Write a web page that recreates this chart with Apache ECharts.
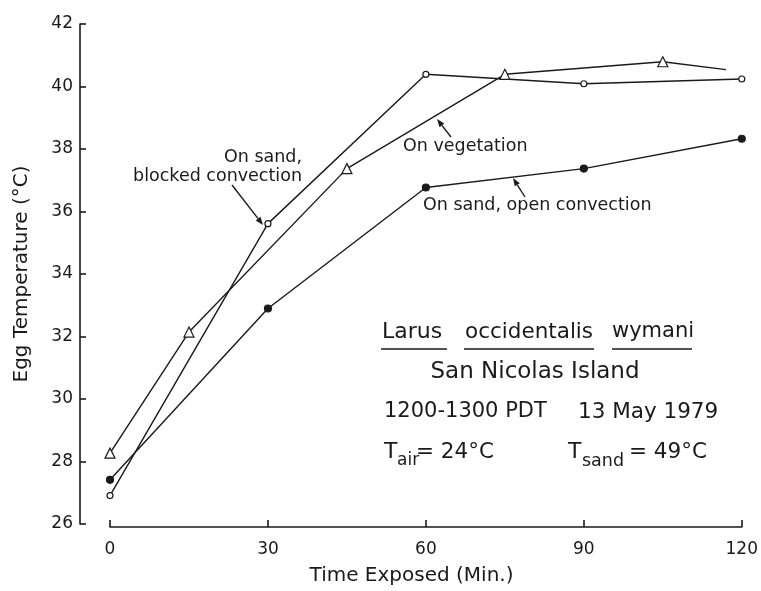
<!DOCTYPE html>
<html>
<head>
<meta charset="utf-8">
<script src="https://cdn.jsdelivr.net/npm/echarts@6/dist/echarts.min.js"></script>
<style>
  html, body { margin: 0; padding: 0; background: #fff; }
  #chart { width: 761px; height: 591px; }
</style>
</head>
<body>
<div id="chart"></div>
<script>
// minutes, egg temperature (°C)
var blockedConvection = [[0, 27.0], [30, 35.65], [60, 40.4], [90, 40.1], [120, 40.25]]
var onVegetation = [[0, 28.35], [15, 32.2], [45, 37.4], [75, 40.4], [105, 40.8], [117, 40.55]]
var openConvection = [[0, 27.5], [30, 32.95], [60, 36.8], [90, 37.4], [120, 38.35]]
var xTicks = [0, 30, 60, 90, 120]

var FONT = 'DejaVu Sans'
var INK = '#1a1a1a'

// arrow from (x1,y1) with a head at (x2,y2)
function arrow(x1, y1, x2, y2) {
  var a = Math.atan2(y2 - y1, x2 - x1)
  var len = 8, w = 3
  var bx = x2 - len * Math.cos(a), by = y2 - len * Math.sin(a)
  return [
    { type: 'line', shape: { x1: x1, y1: y1, x2: bx, y2: by }, style: { stroke: INK, lineWidth: 1.4 } },
    { type: 'polygon', shape: { points: [[x2, y2],
      [bx + w * Math.sin(a), by - w * Math.cos(a)],
      [bx - w * Math.sin(a), by + w * Math.cos(a)]] }, style: { fill: INK } }
  ]
}

function txt(x, y, s, size, align) {
  return { type: 'text', x: x, y: y, style: { text: s, font: size + 'px "' + FONT + '"', fill: INK,
    textAlign: align || 'left', textVerticalAlign: 'middle' } }
}

function uline(x1, x2, y) {
  return { type: 'line', shape: { x1: x1, y1: y, x2: x2, y2: y }, style: { stroke: INK, lineWidth: 1.3 } }
}

var myChart = echarts.init(document.getElementById('chart'))

var graphics = [].concat(
  [txt(302, 157, 'On sand,', 17.5, 'right'), txt(302, 176, 'blocked convection', 17.5, 'right')],
  arrow(232, 185, 263, 225),
  [txt(403, 146, 'On vegetation', 17.5)],
  arrow(451, 137, 437, 119),
  [txt(423, 205, 'On sand, open convection', 17.5)],
  arrow(525, 197, 513, 178),
  [
    txt(382, 332, 'Larus', 22), txt(465, 332, 'occidentalis', 21.5), txt(612, 332, 'wymani', 21),
    uline(381, 447, 349), uline(464, 594, 349), uline(612, 692, 349),
    txt(535, 372, 'San Nicolas Island', 23, 'center'),
    txt(384, 412, '1200-1300 PDT', 21), txt(578, 412, '13 May 1979', 21.5),
    txt(384, 452, 'T', 22), txt(397, 461, 'air', 17), txt(416, 452, '= 24°C', 21.5),
    txt(568, 452, 'T', 22), txt(582, 461, 'sand', 17.5), txt(629, 452, '= 49°C', 21.5)
  ]
)

function lineSeries(name, data, symbol, size, fill) {
  return {
    name: name,
    type: 'line',
    xAxisIndex: 1,
    yAxisIndex: 1,
    data: data,
    symbol: symbol,
    symbolSize: size,
    showSymbol: true,
    lineStyle: { color: INK, width: 1.4 },
    itemStyle: { color: fill, borderColor: INK, borderWidth: 1.2 },
    animation: false
  }
}

var vegData = onVegetation.map(function (p, i) {
  return i === onVegetation.length - 1 ? { value: p, symbol: 'none' } : p
})

var option = {
  backgroundColor: '#fff',
  textStyle: { fontFamily: FONT, color: INK },
  grid: [
    { left: 80, right: 18, top: 24, bottom: 64 },
    { left: 110, right: 18, top: 24, bottom: 64 }
  ],
  xAxis: [
    {
      gridIndex: 0, type: 'value', min: -5.7, max: 120,
      axisLine: { show: false }, axisTick: { show: false }, axisLabel: { show: false }, splitLine: { show: false },
      name: 'Time Exposed (Min.)', nameLocation: 'middle', nameGap: 42,
      nameTextStyle: { fontSize: 20, color: INK, fontFamily: FONT }
    },
    {
      gridIndex: 1, type: 'value', min: 0, max: 120, interval: 30,
      axisLine: { onZero: false, lineStyle: { color: INK, width: 1.6 } },
      axisTick: { inside: true, length: 7, lineStyle: { color: INK, width: 1.6 } },
      axisLabel: { color: INK, fontSize: 17, margin: 14, fontFamily: FONT,
        formatter: function (v) { return xTicks.indexOf(v) >= 0 ? String(v) : '' } },
      splitLine: { show: false }
    }
  ],
  yAxis: [
    {
      gridIndex: 0, type: 'value', min: 26, max: 42, interval: 2,
      axisLine: { show: true, onZero: false, lineStyle: { color: INK, width: 1.6 } },
      axisTick: { show: true, inside: true, length: 6, lineStyle: { color: INK, width: 1.6 } },
      axisLabel: { color: INK, fontSize: 17, margin: 7, fontFamily: FONT },
      splitLine: { show: false },
      name: 'Egg Temperature (°C)', nameLocation: 'middle', nameRotate: 90, nameGap: 48,
      nameTextStyle: { fontSize: 20, color: INK, fontFamily: FONT }
    },
    { gridIndex: 1, type: 'value', min: 26, max: 42, show: false }
  ],
  series: [
    lineSeries('On sand, blocked convection', blockedConvection, 'circle', 6, '#fff'),
    lineSeries('On vegetation', vegData, 'triangle', 10, '#fff'),
    lineSeries('On sand, open convection', openConvection, 'circle', 7, INK)
  ],
  graphic: graphics
}

myChart.setOption(option)
</script>
</body>
</html>
